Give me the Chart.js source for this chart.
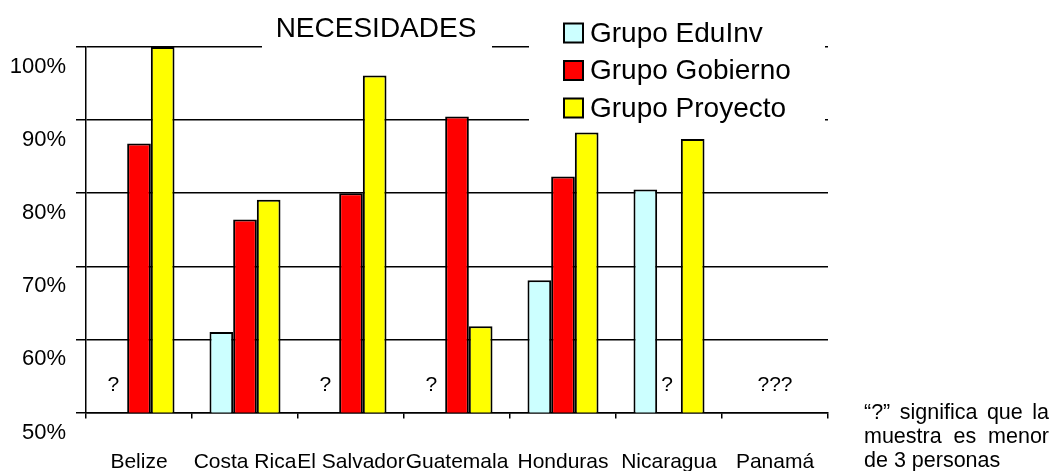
<!DOCTYPE html>
<html>
<head>
<meta charset="utf-8">
<script src="https://cdn.jsdelivr.net/npm/chart.js@4.4.1/dist/chart.umd.min.js"></script>
<style>
html,body{margin:0;padding:0;background:#fff;}
#c{display:block;}
</style>
</head>
<body>
<canvas id="c" width="1051" height="471"></canvas>
<script>
const categories = ['Belize','Costa Rica','El Salvador','Guatemala','Honduras','Nicaragua','Panamá'];
const seriesNames = ['Grupo EduInv','Grupo Gobierno','Grupo Proyecto'];
const eduInv   = [null, 61.0, null, null, 68.1, 80.5, null];
const gobierno = [86.8, 76.4, 80.0, 90.5, 82.3, null, null];
const proyecto = [100.0, 79.1, 96.1, 61.8, 88.3, 87.4, null];
const yTicks = [50, 60, 70, 80, 90, 100];
const titleText = 'NECESIDADES';
const noteLines = ['\u201C?\u201D significa que la', 'muestra es menor', 'de 3 personas'];

const FONT = '"Liberation Sans", Arial, sans-serif';
const colors = ['#CCFFFF', '#FF0000', '#FFFF00'];
const CAT_PCT = 0.67;

const overlay = {
  id: 'overlay',
  afterDatasetsDraw(chart) {
    const ctx = chart.ctx;
    const xs = chart.scales.x;
    const catW = xs.getPixelForValue(1) - xs.getPixelForValue(0);
    const groupW = catW * CAT_PCT;
    const barW = groupW / 3;
    const ys = chart.scales.y;
    const yq = ys.getPixelForValue(53.8);
    ctx.save();
    ctx.fillStyle = '#000';
    ctx.font = '21px ' + FONT;
    ctx.textAlign = 'center';
    ctx.textBaseline = 'middle';
    const sets = chart.data.datasets;
    categories.forEach((c, i) => {
      const cx = xs.getPixelForValue(i);
      const allNull = sets.every(s => s.data[i] === null);
      if (allNull) {
        ctx.fillText('???', cx, yq);
        return;
      }
      sets.forEach((s, d) => {
        if (s.data[i] === null) {
          const x = cx - groupW / 2 + (d + 0.5) * barW;
          ctx.fillText('?', x - 2, yq);
        }
      });
    });
    ctx.restore();
  },
  afterDraw(chart) {
    const ctx = chart.ctx;
    ctx.save();
    // title
    ctx.fillStyle = '#fff';
    ctx.fillRect(262, 6, 230, 44);
    ctx.fillStyle = '#000';
    ctx.font = '28px ' + FONT;
    ctx.textAlign = 'center';
    ctx.textBaseline = 'middle';
    ctx.fillText(titleText, 376, 29);
    // legend
    ctx.fillStyle = '#fff';
    ctx.fillRect(529, 10, 296, 116);
    ctx.textAlign = 'left';
    ctx.font = '28px ' + FONT;
    const rows = [33, 70.5, 108];
    seriesNames.forEach((n, k) => {
      ctx.fillStyle = colors[k];
      ctx.fillRect(564, rows[k] - 9.5, 19, 19);
      ctx.strokeStyle = '#000';
      ctx.lineWidth = 2;
      ctx.strokeRect(564, rows[k] - 9.5, 19, 19);
      ctx.fillStyle = '#000';
      ctx.fillText(n, 590, rows[k] + 1);
    });
    // footnote (justified first two lines)
    ctx.font = '21.5px ' + FONT;
    ctx.textBaseline = 'middle';
    const left = 864, right = 1049;
    const ly = [413, 437, 461];
    noteLines.forEach((line, k) => {
      if (k < 2) {
        const words = line.split(' ');
        const tw = words.reduce((a, w) => a + ctx.measureText(w).width, 0);
        const gap = Math.max(4, (right - left - tw) / (words.length - 1));
        let x = left;
        words.forEach(w => { ctx.fillText(w, x, ly[k]); x += ctx.measureText(w).width + gap; });
      } else {
        ctx.fillText(line, left, ly[k]);
      }
    });
    ctx.restore();
  }
};

new Chart(document.getElementById('c'), {
  type: 'bar',
  data: {
    labels: categories,
    datasets: [
      { label: seriesNames[0], data: eduInv, backgroundColor: colors[0] },
      { label: seriesNames[1], data: gobierno, backgroundColor: colors[1] },
      { label: seriesNames[2], data: proyecto, backgroundColor: colors[2] }
    ].map(d => Object.assign(d, { borderColor: '#000', borderWidth: 2, borderSkipped: false, categoryPercentage: CAT_PCT, barPercentage: 1.0 }))
  },
  options: {
    responsive: false,
    animation: false,
    events: [],
    layout: { padding: { left: 0, top: 47, right: 223, bottom: 0 } },
    plugins: { legend: { display: false }, title: { display: false }, tooltip: { enabled: false } },
    scales: {
      x: {
        offset: true,
        grid: { display: true, offset: true, drawOnChartArea: false, drawTicks: true, tickLength: 6, color: '#000', lineWidth: 1.5 },
        border: { display: true, color: '#000', width: 1.5 },
        ticks: { color: '#000', font: { family: FONT, size: 21 }, padding: 31, maxRotation: 0, autoSkip: false },
        afterFit(s) { s.height = 58.5; }
      },
      y: {
        min: 50, max: 100,
        afterBuildTicks(s) { s.ticks = yTicks.map(v => ({ value: v })); },
        grid: { color: '#000', lineWidth: 1.5, drawTicks: true, tickLength: 10 },
        border: { display: true, color: '#000', width: 1.5 },
        ticks: { color: '#000', font: { family: FONT, size: 22 }, padding: 10, labelOffset: 20, callback: v => v + '%' },
        afterFit(s) { s.width = 86; }
      }
    }
  },
  plugins: [overlay]
});
</script>
</body>
</html>
